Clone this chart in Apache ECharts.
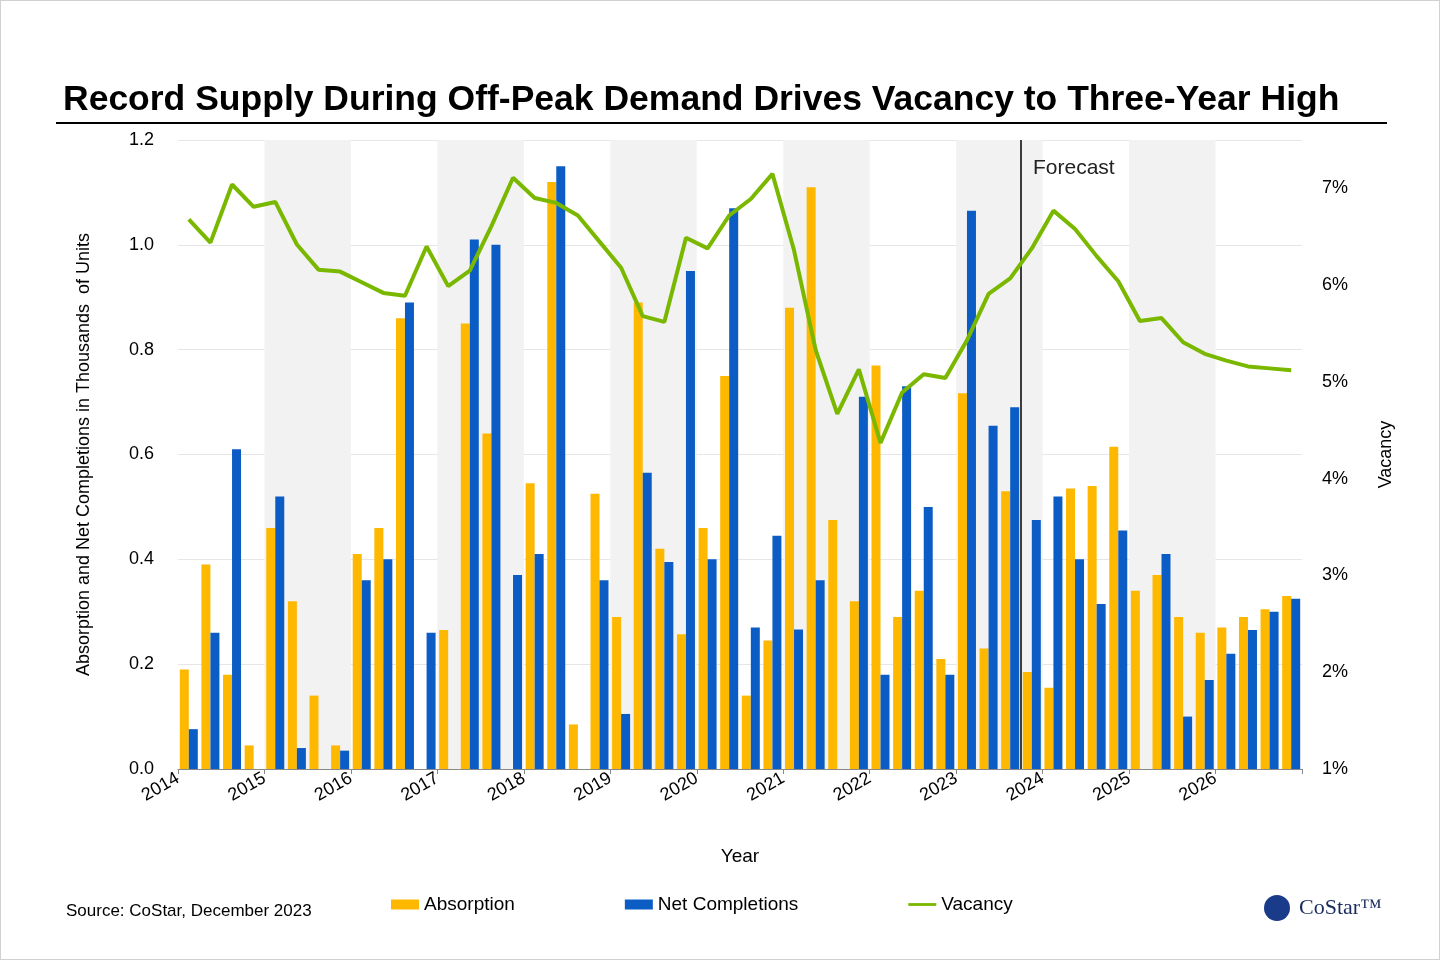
<!DOCTYPE html><html><head><meta charset="utf-8">
<script src="https://cdn.jsdelivr.net/npm/echarts@6/dist/echarts.min.js"></script>
<style>html,body{margin:0;padding:0;background:#fff}#c{width:1440px;height:960px;box-sizing:border-box;border:1px solid #d0d0d0}</style>
</head><body><div id="c"></div><script>
const absorption=[0.19,0.39,0.18,0.045,0.46,0.32,0.14,0.045,0.41,0.46,0.86,0,0.265,0.85,0.64,0,0.545,1.12,0.085,0.525,0.29,0.89,0.42,0.257,0.46,0.75,0.14,0.245,0.88,1.11,0.475,0.32,0.77,0.29,0.34,0.21,0.717,0.23,0.53,0.185,0.155,0.535,0.54,0.615,0.34,0.37,0.29,0.26,0.27,0.29,0.305,0.33];
const completions=[0.076,0.26,0.61,0,0.52,0.04,0,0.035,0.36,0.40,0.89,0.26,0,1.01,1.0,0.37,0.41,1.15,0,0.36,0.105,0.565,0.395,0.95,0.40,1.07,0.27,0.445,0.266,0.36,0,0.71,0.18,0.73,0.50,0.18,1.065,0.655,0.69,0.475,0.52,0.40,0.315,0.455,0,0.41,0.10,0.17,0.22,0.265,0.30,0.325];
const vacancy=[6.68,6.44,7.04,6.81,6.86,6.42,6.16,6.14,6.03,5.92,5.89,6.40,5.99,6.15,6.61,7.11,6.90,6.85,6.72,6.45,6.18,5.68,5.62,6.49,6.38,6.72,6.89,7.15,6.36,5.33,4.67,5.13,4.37,4.89,5.08,5.04,5.43,5.91,6.07,6.38,6.77,6.58,6.30,6.04,5.63,5.66,5.41,5.29,5.22,5.16,5.14,5.12];
const startYear=2014, forecastQuarter=38.8;
const shadedYears=[2015,2017,2019,2021,2023,2025];
const F='Arial, "Liberation Sans", sans-serif';
const toXY=a=>a.map((v,i)=>[i+0.5,v]);
const chart=echarts.init(document.getElementById('c'));
chart.setOption({
 animation:false,
 textStyle:{fontFamily:F},
 title:{text:'Record Supply During Off-Peak Demand Drives Vacancy to Three-Year High',left:57,top:76,textStyle:{fontSize:35.5,fontWeight:'bold',color:'#000',fontFamily:F}},
 graphic:[
  {type:'line',shape:{x1:55,y1:122,x2:1386,y2:122},style:{stroke:'#000',lineWidth:2}},
  {type:'text',left:1032,top:157,z:100,style:{text:'Forecast',fontSize:21,fill:'#222',fontFamily:F}},
  {type:'text',left:65,top:902,style:{text:'Source: CoStar, December 2023',fontSize:17,fill:'#000',fontFamily:F}},
  {type:'text',left:1298,top:896,style:{text:'CoStar™',fontSize:22,fill:'#1a2b5e',fontFamily:'"Liberation Serif", serif'}},
  {type:'circle',shape:{cx:1276,cy:907,r:13},style:{fill:'#1a3a8a'}}
 ],
 legend:{top:889,left:385,itemGap:110,itemWidth:28,itemHeight:10,textStyle:{fontSize:19,color:'#000'},
  data:[{name:'Absorption',icon:'rect'},{name:'Net Completions',icon:'rect'},{name:'Vacancy',icon:'path://M0,3.5L30,3.5L30,6.5L0,6.5Z'}]},
 grid:{left:177,right:137,top:139,bottom:190},
 xAxis:{type:'value',min:0,max:52,interval:4,name:'Year',nameLocation:'middle',nameGap:78,nameTextStyle:{fontSize:19,color:'#000'},
  axisLine:{lineStyle:{color:'#888'}},axisTick:{show:true,lineStyle:{color:'#888'}},splitLine:{show:false},
  axisLabel:{rotate:30,fontSize:18,color:'#000',formatter:v=>v<52?String(startYear+v/4):''}},
 yAxis:[
  {type:'value',min:0,max:1.2,interval:0.2,name:'Absorption and Net Completions in Thousands  of Units',nameLocation:'middle',nameGap:85,nameTextStyle:{fontSize:18,color:'#000'},
   axisLabel:{fontSize:18,color:'#000',formatter:v=>v.toFixed(1),margin:24},splitLine:{lineStyle:{color:'#e6e6e6'}},axisLine:{show:false},axisTick:{show:false}},
  {type:'value',min:1,max:7.5,interval:1,name:'Vacancy',nameLocation:'middle',nameGap:75,nameRotate:90,nameTextStyle:{fontSize:18,color:'#000'},
   axisLabel:{fontSize:18,color:'#000',formatter:v=>v>7.2?'':v+'%',margin:20},splitLine:{show:false},axisLine:{show:false},axisTick:{show:false}}
 ],
 series:[
  {name:'Absorption',type:'bar',data:toXY(absorption),barWidth:9,barGap:'0%',itemStyle:{color:'#FFB800'},
   markArea:{silent:true,itemStyle:{color:'#f2f2f2'},data:shadedYears.map(y=>[{xAxis:(y-startYear)*4},{xAxis:(y-startYear)*4+4}])}},
  {name:'Net Completions',type:'bar',data:toXY(completions),barWidth:9,barGap:'0%',itemStyle:{color:'#0B5CC4'},
   markLine:{silent:true,symbol:'none',label:{show:false},lineStyle:{color:'#000',type:'solid',width:1.5},data:[{xAxis:forecastQuarter}]}},
  {name:'Vacancy',type:'line',yAxisIndex:1,data:toXY(vacancy),symbol:'none',lineStyle:{color:'#7AB800',width:4},itemStyle:{color:'#7AB800'},z:5}
 ]
});
</script></body></html>
